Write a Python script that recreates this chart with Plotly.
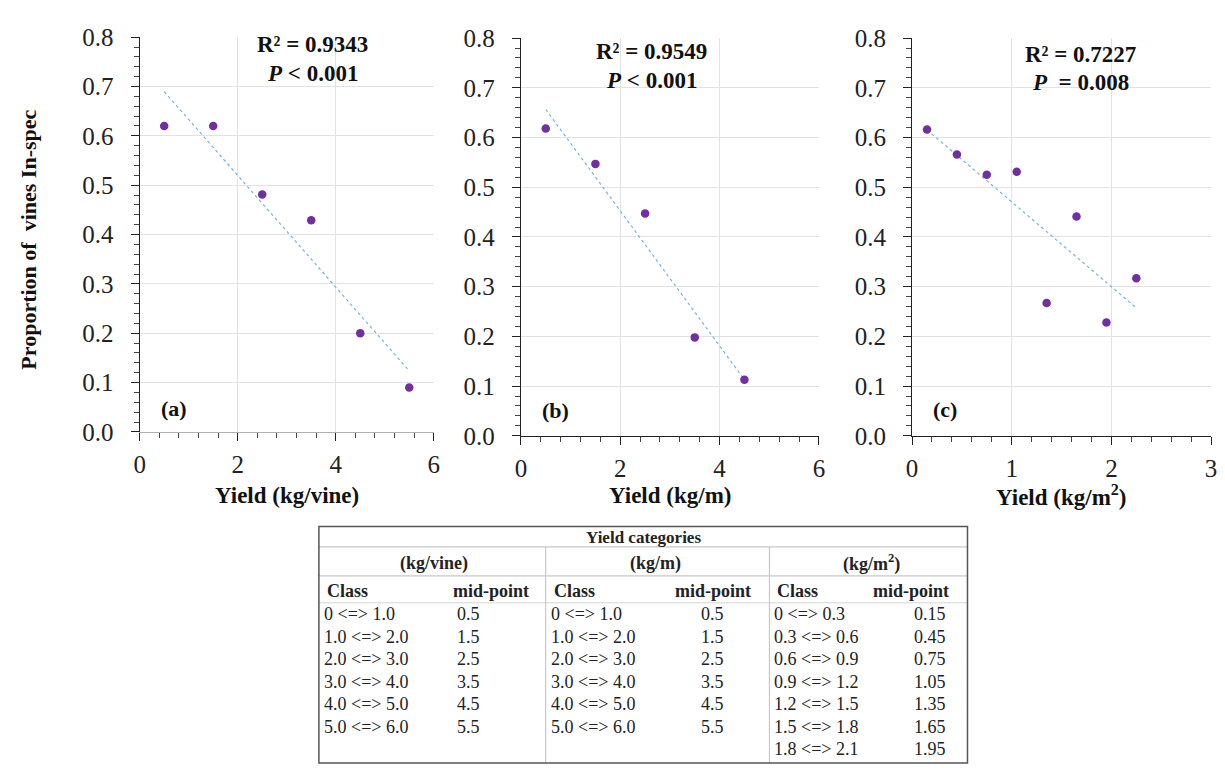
import numpy as np
import plotly.graph_objects as go

W, H = 1225, 779

# ---------------- data ----------------
yield_vine = [0.5, 1.5, 2.5, 3.5, 4.5, 5.5]
prop_vine = [0.620, 0.620, 0.481, 0.429, 0.200, 0.090]

yield_m = [0.5, 1.5, 2.5, 3.5, 4.5]
prop_m = [0.618, 0.547, 0.447, 0.198, 0.113]

yield_m2 = [0.15, 0.45, 0.75, 1.05, 1.35, 1.65, 1.95, 2.25]
prop_m2 = [0.616, 0.566, 0.525, 0.531, 0.267, 0.441, 0.228, 0.317]

stats_text = [("R² = 0.9343", "<i>P</i> &lt; 0.001"),
              ("R² = 0.9549", "<i>P</i> &lt; 0.001"),
              ("R² = 0.7227", "<i>P</i>  = 0.008")]
panel_labels = ["(a)", "(b)", "(c)"]
x_titles = ["Yield (kg/vine)", "Yield (kg/m)", "Yield (kg/m<sup>2</sup>)"]
y_title = "Proportion of  vines In-spec"

# table data
table_title = "Yield categories"
unit_headers = ["(kg/vine)", "(kg/m)", "(kg/m<sup>2</sup>)"]
class_vine = ["0 <=> 1.0", "1.0 <=> 2.0", "2.0 <=> 3.0", "3.0 <=> 4.0", "4.0 <=> 5.0", "5.0 <=> 6.0"]
mid_vine = ["0.5", "1.5", "2.5", "3.5", "4.5", "5.5"]
class_m = ["0 <=> 1.0", "1.0 <=> 2.0", "2.0 <=> 3.0", "3.0 <=> 4.0", "4.0 <=> 5.0", "5.0 <=> 6.0"]
mid_m = ["0.5", "1.5", "2.5", "3.5", "4.5", "5.5"]
class_m2 = ["0 <=> 0.3", "0.3 <=> 0.6", "0.6 <=> 0.9", "0.9 <=> 1.2", "1.2 <=> 1.5", "1.5 <=> 1.8", "1.8 <=> 2.1"]
mid_m2 = ["0.15", "0.45", "0.75", "1.05", "1.35", "1.65", "1.95"]

# ---------------- helpers ----------------
def px(x):
    return x / W

def py(y):
    return 1 - y / H

def esc(s):
    return s.replace("<=>", "&lt;=&gt;")

FONT = "'Liberation Serif', 'Times New Roman', Times, serif"
PURPLE = "rgb(112,48,160)"
TREND = "rgb(120,178,224)"

panels = [
    dict(x=yield_vine, y=prop_vine, xdom=(135, 432), ydom=(434, 25), xmax=6, dtick=2, minor=0.4,
         xlinecolor="#b0b0b0", stat_xy=(310, 33, 63), lab_xy=(170, 410), title_x=284),
    dict(x=yield_m, y=prop_m, xdom=(520, 821), ydom=(438, 26), xmax=6, dtick=2, minor=0.4,
         xlinecolor="#222", stat_xy=(652, 40, 70), lab_xy=(555, 412), title_x=671),
    dict(x=yield_m2, y=prop_m2, xdom=(915, 1217), ydom=(438, 26), xmax=3, dtick=1, minor=0.2,
         xlinecolor="#222", stat_xy=(1085, 43, 72), lab_xy=(948, 411), title_x=1066),
]

fig = go.Figure()
layout = dict(width=W, height=H, margin=dict(l=0, r=0, t=0, b=0),
              paper_bgcolor="white", plot_bgcolor="white", showlegend=False,
              font=dict(family=FONT, color="#222"))
annotations = []
shapes = []

for i, p in enumerate(panels):
    n = "" if i == 0 else str(i + 1)
    xa, ya = "x" + n, "y" + n
    xs = np.array(p["x"], dtype=float)
    ys = np.array(p["y"], dtype=float)
    slope, icpt = np.polyfit(xs, ys, 1)
    xl = np.array([xs.min(), xs.max()])
    fig.add_trace(go.Scatter(x=xl, y=slope * xl + icpt, mode="lines",
                             line=dict(color=TREND, width=1.2, dash="dot"),
                             xaxis=xa, yaxis=ya, hoverinfo="skip"))
    fig.add_trace(go.Scatter(x=xs, y=ys, mode="markers",
                             marker=dict(color=PURPLE, size=8.5),
                             xaxis=xa, yaxis=ya))
    layout["xaxis" + n] = dict(
        domain=[px(p["xdom"][0]), px(p["xdom"][1])], anchor=ya,
        range=[0, p["xmax"]], dtick=p["dtick"], tick0=0,
        showgrid=True, gridcolor="#e2e2e2", gridwidth=1, zeroline=False,
        showline=True, linecolor=p["xlinecolor"], linewidth=1.2,
        ticks="outside", ticklen=8, tickcolor="#222", tickwidth=1.2,
        minor=dict(dtick=p["minor"], tick0=0, ticks="outside", ticklen=5,
                   tickcolor="#444", tickwidth=1, showgrid=False),
        tickfont=dict(family=FONT, size=25, color="#222"),
        ticklabelstandoff=2, fixedrange=True)
    layout["yaxis" + n] = dict(
        domain=[py(p["ydom"][0]), py(p["ydom"][1])], anchor=xa,
        range=[0, 0.8], dtick=0.1, tick0=0, tickformat=".1f",
        showgrid=True, gridcolor="#e2e2e2", gridwidth=1, zeroline=False,
        showline=True, linecolor="#222", linewidth=1.2,
        ticks="outside", ticklen=8, tickcolor="#222", tickwidth=1.2,
        minor=dict(dtick=0.02, tick0=0, ticks="outside", ticklen=5,
                   tickcolor="#444", tickwidth=1, showgrid=False),
        tickfont=dict(family=FONT, size=25, color="#222"),
        ticklabelstandoff=12, fixedrange=True)

    sx, sy1, sy2 = p["stat_xy"]
    annotations.append(dict(x=px(sx), y=py(sy1), xref="paper", yref="paper",
                            text="<b>" + stats_text[i][0] + "</b>", showarrow=False,
                            font=dict(family=FONT, size=23, color="#111"),
                            xanchor="center", yanchor="middle"))
    annotations.append(dict(x=px(sx), y=py(sy2), xref="paper", yref="paper",
                            text="<b>" + stats_text[i][1] + "</b>", showarrow=False,
                            font=dict(family=FONT, size=23, color="#111"),
                            xanchor="center", yanchor="middle"))
    lx, ly = p["lab_xy"]
    annotations.append(dict(x=px(lx), y=py(ly), xref="paper", yref="paper",
                            text="<b>" + panel_labels[i] + "</b>", showarrow=False,
                            font=dict(family=FONT, size=22, color="#111"),
                            xanchor="center", yanchor="middle"))
    annotations.append(dict(x=px(p["title_x"]), y=py(500), xref="paper", yref="paper",
                            text="<b>" + x_titles[i] + "</b>", showarrow=False,
                            font=dict(family=FONT, size=23, color="#111"),
                            xanchor="center", yanchor="middle"))

annotations.append(dict(x=px(23), y=py(235), xref="paper", yref="paper",
                        text="<b>" + y_title + "</b>", showarrow=False, textangle=-90,
                        font=dict(family=FONT, size=22, color="#111"),
                        xanchor="center", yanchor="middle"))

# ---------------- table ----------------
T_L, T_R, T_T, T_B = 316, 971, 532, 777
V1, V2 = 545, 771
H_TITLE, H_UNITS, H_CLASS = 553, 583, 611

def hline(y, x0, x1, color, w):
    shapes.append(dict(type="line", xref="paper", yref="paper", x0=px(x0), x1=px(x1),
                       y0=py(y), y1=py(y), line=dict(color=color, width=w)))

def vline(x, y0, y1, color, w):
    shapes.append(dict(type="line", xref="paper", yref="paper", x0=px(x), x1=px(x),
                       y0=py(y0), y1=py(y1), line=dict(color=color, width=w)))

hline(H_TITLE, T_L, T_R, "#c8c8c8", 1.2)
hline(H_UNITS, T_L, T_R, "#c8c8c8", 1.2)
hline(H_CLASS, T_L, T_R, "#d4d4d4", 1)
vline(V1, H_TITLE, T_B, "#c8c8c8", 1.2)
vline(V2, H_TITLE, T_B, "#c8c8c8", 1.2)
shapes.append(dict(type="rect", xref="paper", yref="paper", x0=px(T_L), x1=px(T_R),
                   y0=py(T_B), y1=py(T_T), line=dict(color="#555", width=1.5)))

def txt(x, y, s, anchor="left", bold=False, size=18):
    annotations.append(dict(x=px(x), y=py(y), xref="paper", yref="paper",
                            text=("<b>" + s + "</b>") if bold else s, showarrow=False,
                            font=dict(family=FONT, size=size, color="#222"),
                            xanchor=anchor, yanchor="middle"))

txt((T_L + T_R) / 2, 543, table_title, "center", True, 17)
txt(432, 570, unit_headers[0], "center", True, 18)
txt(656, 570, unit_headers[1], "center", True, 18)
txt(874, 570, unit_headers[2], "center", True, 18)

row_y0, row_dy = 623, 23.3
header_y = 599
groups = [
    (class_vine, mid_vine, 319, 449, "left"),
    (class_m, mid_m, 548, 754, "right"),
    (class_m2, mid_m2, 774, 954, "right"),
]
for cls, mids, cx, mx, manch in groups:
    txt(cx + 3, header_y, "Class", "left", True, 18)
    txt(mx, header_y, "mid-point", manch, True, 18)
    for r, (c, m) in enumerate(zip(cls, mids)):
        yy = row_y0 + r * row_dy
        txt(cx, yy, esc(c), "left", False, 18)
        if manch == "left":
            txt(mx + 4, yy, m, "left", False, 18)
        else:
            txt(mx - 27 if mx < 760 else mx - 3, yy, m, "right", False, 18)

layout["annotations"] = annotations
layout["shapes"] = shapes
fig.update_layout(**layout)
fig.write_html("out.html")
